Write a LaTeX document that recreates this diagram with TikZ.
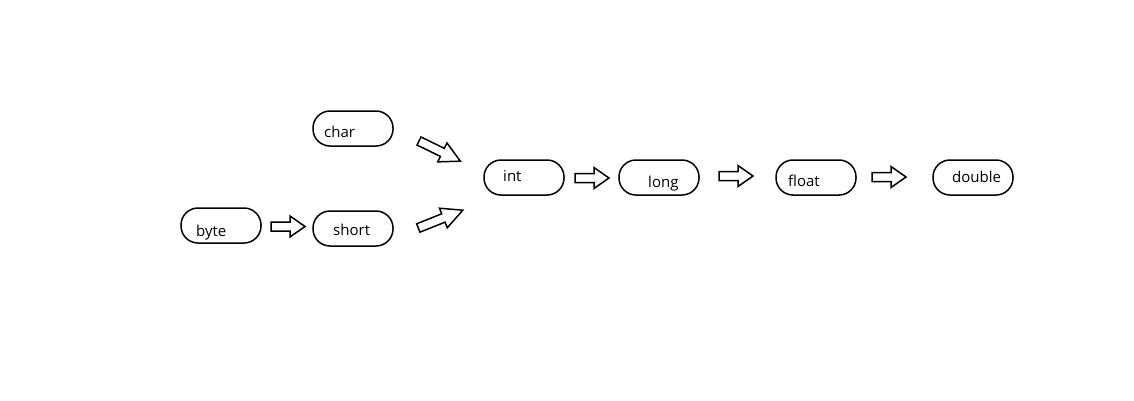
\documentclass[tikz,border=0pt]{standalone}
\usepackage{fontspec}
\setmainfont{Open Sans}
\begin{document}
\begin{tikzpicture}[x=1pt,y=-1pt,
  typebox/.style={draw, line width=1.5pt, rounded corners=17pt,
    minimum width=80pt, minimum height=35pt, inner sep=0pt},
  typename/.style={anchor=base west, inner sep=0pt, font=\fontsize{15}{18}\selectfont},
  arrowline/.style={draw, line width=1.5pt, line join=miter, fill=white},
  pics/blockarrow/.style 2 args={code={
    \path[arrowline] (0,-4.5) -- (#1-#2,-4.5) -- (#1-#2,-10.5) -- (#1,0)
      -- (#1-#2,10.5) -- (#1-#2,4.5) -- (0,4.5) -- cycle;}}]
\useasboundingbox (0,0) rectangle (1134,400);

% type boxes
\node[typebox] (char)   at (353,128.5) {};
\node[typebox] (short)  at (353,228.5) {};
\node[typebox] (byte)   at (221,225.5) {};
\node[typebox] (int)    at (524,177.5) {};
\node[typebox] (long)   at (659,177.5) {};
\node[typebox] (float)  at (816,177.5) {};
\node[typebox] (double) at (973,177.5) {};

% type names
\node[typename] (charT)   at (324,137.3) {char};
\node[typename] (shortT)  at (333,235)   {short};
\node[typename] (byteT)   at (196,236)   {byte};
\node[typename] (intT)    at (503,181.7) {int};
\node[typename] (longT)   at (648,187.7) {long};
\node[typename] (floatT)  at (788,186.7) {float};
\node[typename] (doubleT) at (952,182.3) {double};

% widening conversions
\pic (b2s) at (271,226.5) {blockarrow={34}{15}};
\pic[rotate=-26]  (c2i) at (419,141)   {blockarrow={46}{20}};
\pic[rotate=21.8] (s2i) at (418.3,228) {blockarrow={48}{21}};
\pic (i2l) at (575,178) {blockarrow={34}{15}};
\pic (l2f) at (719,176) {blockarrow={34}{15}};
\pic (f2d) at (872,177) {blockarrow={34}{15}};
\end{tikzpicture}
\end{document}
